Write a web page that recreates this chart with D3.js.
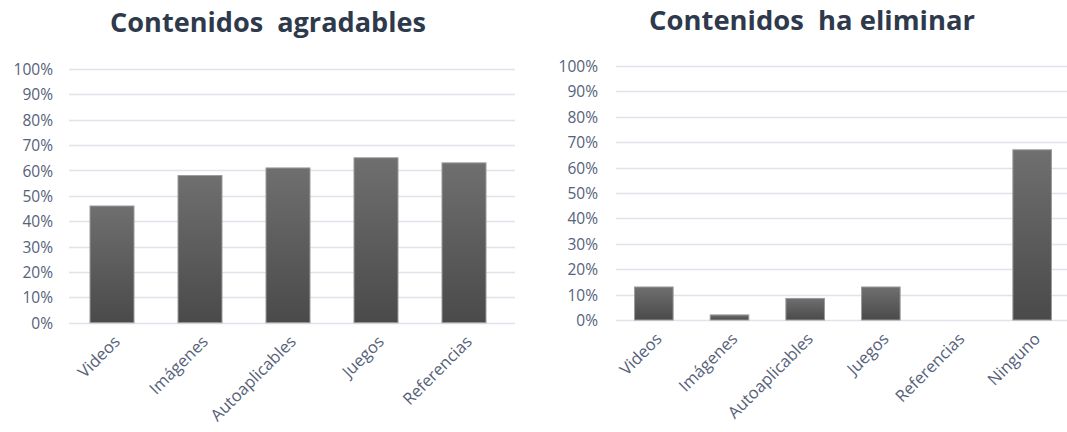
<!DOCTYPE html>
<html>
<head>
<meta charset="utf-8">
<script src="https://cdn.jsdelivr.net/npm/d3@7"></script>
<style>
  html, body { margin: 0; padding: 0; background: #fff; }
  svg { display: block; }
</style>
</head>
<body>
<svg id="chart" width="1067" height="432"></svg>
<script>
// ---- data ----
const leftTitle = "Contenidos  agradables";
const leftCategories = ["Videos", "Imágenes", "Autoaplicables", "Juegos", "Referencias"];
const leftValues = [0.46, 0.58, 0.61, 0.65, 0.63];

const rightTitle = "Contenidos  ha eliminar";
const rightCategories = ["Videos", "Imágenes", "Autoaplicables", "Juegos", "Referencias", "Ninguno"];
const rightValues = [0.13, 0.02, 0.085, 0.13, 0, 0.67];

const yTicks = [0, 0.1, 0.2, 0.3, 0.4, 0.5, 0.6, 0.7, 0.8, 0.9, 1.0];

// ---- drawing ----
const svg = d3.select("#chart");
const FONT = "'Open Sans', 'Noto Sans', sans-serif";
const textColor = "#56617a";
const gridColor = "#dfe4ec";

const defs = svg.append("defs");
const grad = defs.append("linearGradient").attr("id", "barGrad")
  .attr("x1", 0).attr("y1", 0).attr("x2", 0).attr("y2", 1);
grad.append("stop").attr("offset", "0%").attr("stop-color", "#6f6f6f");
grad.append("stop").attr("offset", "100%").attr("stop-color", "#4a4a4a");

function drawChart(cfg) {
  const g = svg.append("g");
  const y = d3.scaleLinear().domain([0, 1]).range([cfg.y0, cfg.y100]);
  const x = d3.scaleBand().domain(cfg.categories).range([cfg.xStart, cfg.xEnd]).paddingInner(cfg.pad).paddingOuter(cfg.pad / 2);

  // title
  const t = g.append("text")
    .attr("x", cfg.titleX).attr("y", cfg.titleY)
    .attr("text-anchor", "middle")
    .attr("font-family", FONT).attr("font-weight", "bold")
    .attr("font-size", 26).attr("fill", "#2e3a4c")
    .style("white-space", "pre")
    .text(cfg.title);
  const w = t.node().getComputedTextLength();
  t.attr("font-size", 26 * cfg.titleWidth / w);

  // gridlines
  g.append("g").selectAll("line").data(yTicks).join("line")
    .attr("x1", cfg.gridX1).attr("x2", cfg.gridX2)
    .attr("y1", d => Math.round(y(d)) + 0.5).attr("y2", d => Math.round(y(d)) + 0.5)
    .attr("stroke", gridColor).attr("stroke-width", 1.5);

  // y axis labels
  const yAxis = d3.axisLeft(y).tickValues(yTicks).tickFormat(d3.format(".0%")).tickSize(0).tickPadding(0);
  const ya = g.append("g").attr("transform", `translate(${cfg.labelRight},0)`).call(yAxis);
  ya.select(".domain").remove();
  ya.selectAll("text").attr("font-family", FONT).attr("font-size", 15.5).attr("fill", textColor)
    .attr("dy", "0.36em");

  // bars
  g.append("g").selectAll("rect").data(cfg.values).join("rect")
    .attr("x", (d, i) => x(cfg.categories[i]))
    .attr("width", x.bandwidth())
    .attr("y", d => y(d))
    .attr("height", d => y(0) - y(d))
    .attr("fill", "url(#barGrad)")
    .attr("stroke", d => d > 0 ? "#9a9a9a" : "none")
    .attr("stroke-width", 1);

  // x axis labels
  const xAxis = d3.axisBottom(x).tickSize(0).tickPadding(0);
  const xa = g.append("g").attr("transform", `translate(0,${cfg.y0})`).call(xAxis);
  xa.select(".domain").remove();
  xa.selectAll("text")
    .attr("font-family", FONT).attr("font-size", 16.5).attr("fill", textColor)
    .attr("text-anchor", "end")
    .attr("dy", 0)
    .attr("transform", "translate(9,20) rotate(-45)");
}

drawChart({
  title: leftTitle, categories: leftCategories, values: leftValues,
  titleX: 268, titleY: 32, titleWidth: 316,
  y0: 322.7, y100: 69,
  xStart: 68, xEnd: 508, pad: 0.5,
  gridX1: 69, gridX2: 515, labelRight: 53
});

drawChart({
  title: rightTitle, categories: rightCategories, values: rightValues,
  titleX: 812, titleY: 30, titleWidth: 326,
  y0: 320, y100: 66,
  xStart: 616, xEnd: 1070, pad: 0.49,
  gridX1: 616, gridX2: 1067, labelRight: 598
});
</script>
</body>
</html>
